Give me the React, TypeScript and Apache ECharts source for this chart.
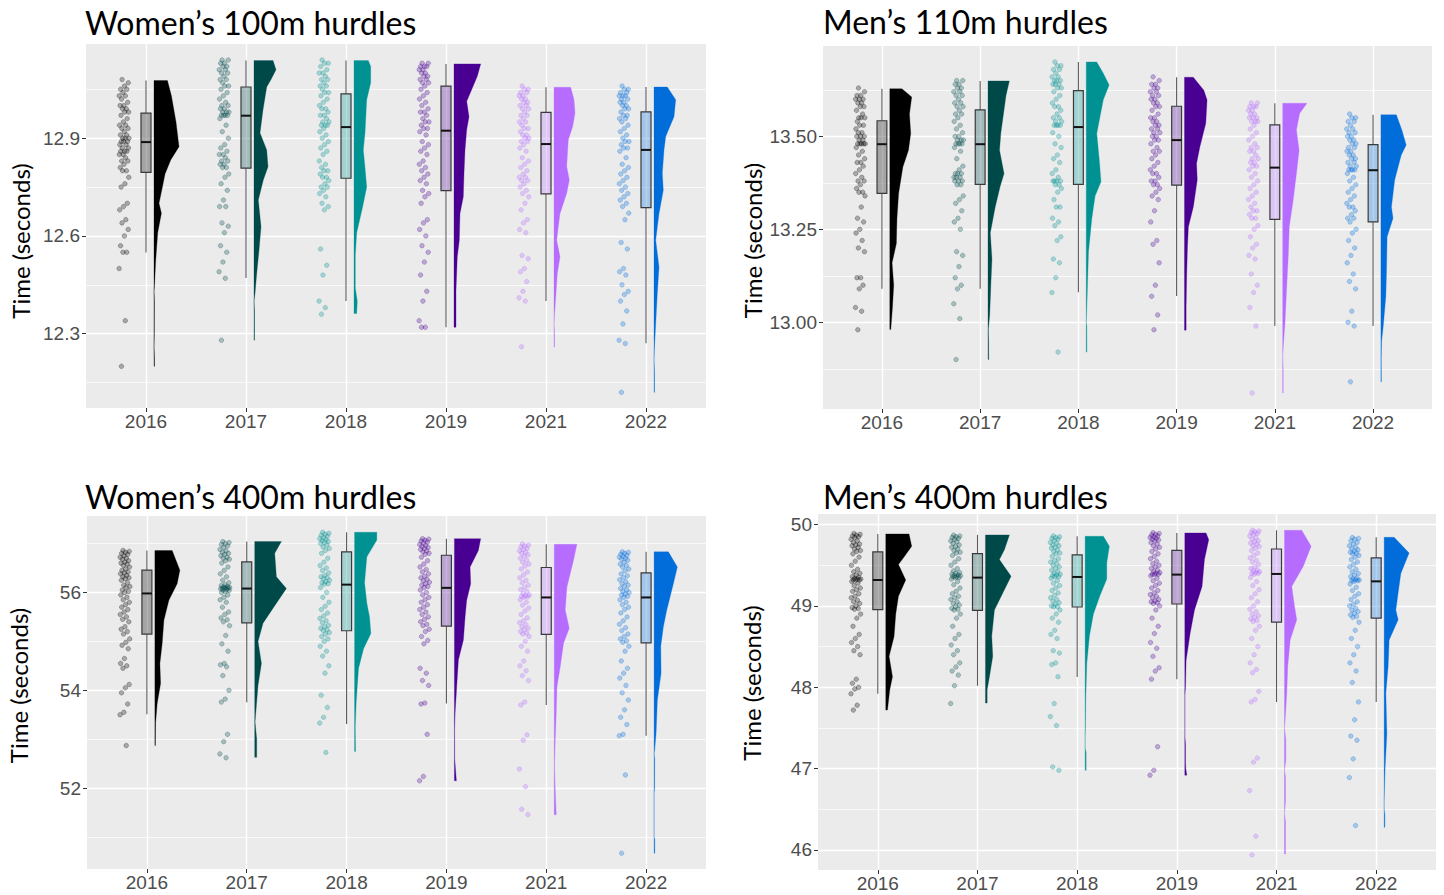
import React, { useEffect, useRef } from 'react';
import * as echarts from 'echarts';

// ---------- categories ----------
const years = ['2016', '2017', '2018', '2019', '2021', '2022'];
const yearColors = ['#000000', '#004949', '#009292', '#490092', '#b66dff', '#006ddb'];

// ---------- Women's 100m hurdles ----------
const w100Pts2016 = [13.08, 13.07, 13.06, 13.05, 13.05, 13.04, 13.03, 13.03, 13.02, 13.01, 13.0, 13.0, 12.99, 12.99, 12.98, 12.98, 12.97, 12.96, 12.95, 12.94, 12.94, 12.93, 12.93, 12.92, 12.91, 12.91, 12.9, 12.9, 12.9, 12.89, 12.89, 12.89, 12.88, 12.88, 12.87, 12.87, 12.86, 12.86, 12.86, 12.85, 12.85, 12.84, 12.83, 12.83, 12.82, 12.81, 12.8, 12.8, 12.78, 12.76, 12.75, 12.7, 12.69, 12.68, 12.65, 12.64, 12.62, 12.6, 12.57, 12.55, 12.55, 12.5, 12.34, 12.2];
const w100Pts2017 = [13.14, 13.14, 13.13, 13.13, 13.12, 13.12, 13.11, 13.11, 13.1, 13.1, 13.09, 13.08, 13.08, 13.07, 13.06, 13.06, 13.05, 13.04, 13.03, 13.02, 13.01, 13.0, 13.0, 12.99, 12.99, 12.98, 12.98, 12.98, 12.97, 12.97, 12.97, 12.97, 12.96, 12.94, 12.92, 12.9, 12.88, 12.87, 12.86, 12.85, 12.85, 12.84, 12.83, 12.83, 12.82, 12.82, 12.81, 12.81, 12.79, 12.78, 12.76, 12.74, 12.71, 12.69, 12.69, 12.64, 12.63, 12.61, 12.57, 12.55, 12.52, 12.49, 12.47, 12.28];
const w100Pts2018 = [13.14, 13.13, 13.13, 13.12, 13.11, 13.1, 13.1, 13.09, 13.08, 13.08, 13.07, 13.06, 13.06, 13.05, 13.04, 13.04, 13.03, 13.02, 13.01, 13.0, 12.99, 12.99, 12.98, 12.97, 12.97, 12.96, 12.95, 12.95, 12.94, 12.94, 12.94, 12.93, 12.92, 12.91, 12.9, 12.89, 12.88, 12.87, 12.86, 12.85, 12.83, 12.82, 12.81, 12.8, 12.8, 12.79, 12.78, 12.78, 12.77, 12.76, 12.75, 12.75, 12.74, 12.73, 12.72, 12.7, 12.69, 12.68, 12.56, 12.51, 12.48, 12.4, 12.38, 12.36];
const w100Pts2019 = [13.13, 13.13, 13.12, 13.12, 13.12, 13.11, 13.11, 13.1, 13.1, 13.09, 13.09, 13.08, 13.08, 13.07, 13.07, 13.06, 13.05, 13.04, 13.03, 13.02, 13.01, 13.0, 12.99, 12.98, 12.98, 12.97, 12.96, 12.95, 12.95, 12.94, 12.93, 12.93, 12.92, 12.91, 12.89, 12.88, 12.87, 12.86, 12.85, 12.83, 12.82, 12.81, 12.8, 12.79, 12.78, 12.77, 12.76, 12.74, 12.73, 12.72, 12.7, 12.65, 12.64, 12.62, 12.6, 12.57, 12.55, 12.52, 12.48, 12.43, 12.4, 12.34, 12.32, 12.32];
const w100Pts2021 = [13.06, 13.05, 13.05, 13.04, 13.04, 13.03, 13.03, 13.02, 13.02, 13.01, 13.01, 13.0, 13.0, 12.99, 12.99, 12.98, 12.97, 12.97, 12.96, 12.95, 12.95, 12.94, 12.93, 12.93, 12.92, 12.91, 12.91, 12.9, 12.9, 12.89, 12.89, 12.88, 12.87, 12.86, 12.84, 12.83, 12.82, 12.81, 12.8, 12.79, 12.78, 12.78, 12.77, 12.77, 12.76, 12.75, 12.74, 12.73, 12.72, 12.7, 12.68, 12.65, 12.64, 12.62, 12.61, 12.54, 12.53, 12.5, 12.49, 12.46, 12.43, 12.41, 12.4, 12.26];
const w100Pts2022 = [13.06, 13.05, 13.05, 13.04, 13.04, 13.03, 13.03, 13.03, 13.02, 13.02, 13.01, 13.01, 13.0, 13.0, 12.99, 12.99, 12.98, 12.97, 12.97, 12.96, 12.96, 12.95, 12.94, 12.93, 12.92, 12.91, 12.9, 12.89, 12.89, 12.88, 12.87, 12.87, 12.86, 12.84, 12.82, 12.81, 12.8, 12.79, 12.78, 12.77, 12.76, 12.75, 12.74, 12.73, 12.72, 12.71, 12.7, 12.69, 12.67, 12.65, 12.58, 12.56, 12.5, 12.49, 12.48, 12.45, 12.43, 12.42, 12.4, 12.37, 12.33, 12.28, 12.27, 12.12];
// [lower whisker, Q1, median, Q3, upper whisker]
const w100Box2016 = [12.549, 12.795, 12.888, 12.977, 13.077];
const w100Box2017 = [12.471, 12.808, 12.969, 13.057, 13.138];
const w100Box2018 = [12.4, 12.777, 12.934, 13.036, 13.138];
const w100Box2019 = [12.32, 12.739, 12.923, 13.06, 13.128];
const w100Box2021 = [12.4, 12.729, 12.882, 12.979, 13.056];
const w100Box2022 = [12.271, 12.687, 12.864, 12.981, 13.057];
// density profile: [time, relative density]
const w100Dens2016 = [[13.077, 13.4], [13.03, 17.4], [12.95, 22], [12.874, 25], [12.833, 16.7], [12.79, 11], [12.75, 8.4], [12.7, 5], [12.67, 7.4], [12.61, 3.7], [12.525, 1.7], [12.45, 0.5], [12.43, 0], [12.4, 0.4], [12.3, 0.3], [12.26, 0], [12.23, 0.4], [12.2, 0.5]];
const w100Dens2017 = [[13.138, 19], [13.11, 22], [13.08, 17], [13.057, 12.7], [12.987, 9], [12.916, 6], [12.864, 12.7], [12.812, 14], [12.772, 9.3], [12.71, 4.3], [12.628, 7], [12.556, 5], [12.485, 2.7], [12.423, 1], [12.4, 0], [12.37, 0.5], [12.28, 0.5]];
const w100Dens2018 = [[13.138, 14.3], [13.12, 16.7], [13.07, 16.7], [13.018, 12.7], [12.916, 11], [12.864, 9.3], [12.81, 11], [12.75, 12.7], [12.69, 8.7], [12.61, 2.7], [12.54, 1.3], [12.44, 1.3], [12.4, 3.3], [12.362, 2.7]];
const w100Dens2019 = [[13.128, 26.7], [13.09, 23.3], [13.049, 17.7], [13.013, 12.7], [12.966, 15], [12.926, 12.7], [12.864, 11], [12.792, 10], [12.72, 9.3], [12.669, 6], [12.587, 5.3], [12.536, 3.3], [12.433, 2], [12.32, 2]];
const w100Dens2021 = [[13.056, 16.7], [13.018, 20], [12.977, 21], [12.936, 18.7], [12.895, 14.3], [12.813, 12.7], [12.772, 15.3], [12.731, 12.7], [12.669, 6], [12.628, 4.3], [12.587, 2.7], [12.536, 6], [12.485, 3.3], [12.423, 2], [12.35, 0.3], [12.33, 0], [12.3, 0.5], [12.259, 0.5]];
const w100Dens2022 = [[13.057, 13.3], [13.018, 21.7], [12.966, 20], [12.905, 11.7], [12.864, 10], [12.792, 8.3], [12.74, 9.3], [12.669, 5], [12.587, 1.7], [12.505, 5], [12.423, 3.3], [12.33, 1.7], [12.249, 0.3], [12.22, 0], [12.18, 0.5], [12.12, 0.5]];

// ---------- Men's 110m hurdles ----------
const m110Pts2016 = [13.63, 13.62, 13.61, 13.61, 13.6, 13.6, 13.6, 13.59, 13.59, 13.58, 13.58, 13.57, 13.56, 13.55, 13.55, 13.55, 13.54, 13.53, 13.53, 13.52, 13.51, 13.51, 13.5, 13.5, 13.5, 13.49, 13.49, 13.48, 13.48, 13.48, 13.48, 13.48, 13.47, 13.46, 13.45, 13.44, 13.43, 13.43, 13.42, 13.41, 13.4, 13.39, 13.38, 13.38, 13.37, 13.36, 13.35, 13.35, 13.34, 13.31, 13.28, 13.27, 13.25, 13.24, 13.22, 13.2, 13.19, 13.12, 13.12, 13.1, 13.09, 13.04, 13.03, 12.98];
const m110Pts2017 = [13.65, 13.65, 13.64, 13.64, 13.63, 13.63, 13.62, 13.62, 13.61, 13.61, 13.6, 13.59, 13.59, 13.58, 13.58, 13.57, 13.56, 13.56, 13.55, 13.54, 13.53, 13.52, 13.51, 13.5, 13.5, 13.49, 13.49, 13.49, 13.48, 13.48, 13.48, 13.48, 13.47, 13.46, 13.44, 13.42, 13.41, 13.4, 13.4, 13.4, 13.39, 13.39, 13.39, 13.38, 13.38, 13.38, 13.37, 13.37, 13.34, 13.33, 13.32, 13.3, 13.28, 13.27, 13.25, 13.19, 13.18, 13.15, 13.12, 13.1, 13.09, 13.05, 13.01, 12.9];
const m110Pts2018 = [13.7, 13.69, 13.69, 13.68, 13.68, 13.67, 13.66, 13.66, 13.65, 13.65, 13.65, 13.64, 13.64, 13.64, 13.63, 13.63, 13.62, 13.61, 13.6, 13.59, 13.58, 13.58, 13.57, 13.56, 13.55, 13.55, 13.54, 13.54, 13.53, 13.53, 13.53, 13.53, 13.51, 13.5, 13.48, 13.47, 13.45, 13.44, 13.43, 13.41, 13.4, 13.39, 13.38, 13.38, 13.38, 13.38, 13.37, 13.37, 13.36, 13.35, 13.33, 13.31, 13.31, 13.28, 13.27, 13.26, 13.23, 13.22, 13.17, 13.16, 13.12, 13.08, 12.92];
const m110Pts2019 = [13.66, 13.65, 13.64, 13.64, 13.63, 13.63, 13.62, 13.62, 13.61, 13.61, 13.6, 13.6, 13.59, 13.59, 13.58, 13.58, 13.57, 13.56, 13.55, 13.55, 13.54, 13.54, 13.53, 13.53, 13.52, 13.52, 13.51, 13.51, 13.5, 13.5, 13.49, 13.49, 13.48, 13.47, 13.46, 13.46, 13.45, 13.44, 13.43, 13.42, 13.41, 13.4, 13.4, 13.39, 13.38, 13.38, 13.37, 13.37, 13.36, 13.35, 13.34, 13.33, 13.3, 13.27, 13.22, 13.21, 13.16, 13.1, 13.07, 13.02, 12.98];
const m110Pts2021 = [13.59, 13.59, 13.58, 13.58, 13.58, 13.57, 13.57, 13.56, 13.56, 13.55, 13.55, 13.55, 13.54, 13.54, 13.54, 13.53, 13.52, 13.51, 13.5, 13.49, 13.48, 13.47, 13.47, 13.46, 13.46, 13.45, 13.44, 13.44, 13.43, 13.43, 13.42, 13.42, 13.41, 13.4, 13.39, 13.38, 13.37, 13.36, 13.35, 13.34, 13.33, 13.32, 13.31, 13.3, 13.3, 13.29, 13.28, 13.28, 13.26, 13.25, 13.23, 13.21, 13.2, 13.18, 13.17, 13.13, 13.1, 13.08, 13.04, 12.99, 12.81];
const m110Pts2022 = [13.56, 13.55, 13.55, 13.54, 13.54, 13.53, 13.52, 13.52, 13.51, 13.51, 13.5, 13.5, 13.49, 13.49, 13.48, 13.48, 13.47, 13.47, 13.46, 13.46, 13.45, 13.45, 13.44, 13.44, 13.43, 13.43, 13.42, 13.42, 13.41, 13.41, 13.41, 13.41, 13.4, 13.39, 13.38, 13.37, 13.36, 13.35, 13.34, 13.33, 13.32, 13.31, 13.31, 13.3, 13.29, 13.28, 13.28, 13.27, 13.25, 13.24, 13.22, 13.2, 13.18, 13.16, 13.13, 13.11, 13.09, 13.03, 13.0, 12.99, 12.84];
const m110Box2016 = [13.09, 13.347, 13.479, 13.542, 13.628];
const m110Box2017 = [13.09, 13.371, 13.479, 13.571, 13.649];
const m110Box2018 = [13.081, 13.371, 13.525, 13.623, 13.7];
const m110Box2019 = [13.071, 13.369, 13.49, 13.581, 13.659];
const m110Box2021 = [12.99, 13.277, 13.416, 13.531, 13.589];
const m110Box2022 = [12.99, 13.27, 13.409, 13.478, 13.558];
const m110Dens2016 = [[13.628, 12.3], [13.606, 22.3], [13.56, 20], [13.508, 21.3], [13.463, 19], [13.418, 13.3], [13.347, 9], [13.28, 7.3], [13.212, 6.7], [13.16, 2.3], [13.1, 4], [13.04, 2.7], [12.981, 1]];
const m110Dens2017 = [[13.649, 21.7], [13.61, 18.3], [13.508, 13], [13.463, 11.7], [13.4, 16.3], [13.365, 12.3], [13.31, 7.3], [13.24, 2.3], [13.17, 4], [13.11, 3], [13.02, 1.7], [12.98, 0.3], [12.95, 0.6], [12.9, 0.7]];
const m110Dens2018 = [[13.7, 10.7], [13.67, 17.3], [13.638, 23.3], [13.598, 17.3], [13.508, 10.7], [13.436, 13.3], [13.378, 15], [13.34, 9], [13.28, 5.7], [13.19, 2.3], [13.1, 1.3], [13.015, 0.3], [13.0, 0], [12.99, 0.6], [12.92, 0.7]];
const m110Dens2019 = [[13.659, 9], [13.624, 19.7], [13.598, 23], [13.535, 21.7], [13.472, 15.7], [13.427, 12.3], [13.383, 13], [13.31, 9], [13.257, 4], [13.2, 3], [13.131, 2.3], [13.04, 1.7], [12.979, 1.7]];
const m110Dens2021 = [[13.589, 24.7], [13.562, 17.3], [13.517, 14], [13.463, 16.7], [13.4, 14], [13.329, 10.7], [13.257, 6.7], [13.18, 5.7], [13.09, 4], [12.997, 2.3], [12.94, 0.7], [12.91, 0], [12.87, 0.5], [12.81, 0.5]];
const m110Dens2022 = [[13.558, 15.7], [13.517, 21.3], [13.477, 25.7], [13.45, 20.7], [13.383, 14], [13.31, 10.7], [13.28, 12.3], [13.23, 6.3], [13.14, 5.7], [13.07, 5], [12.988, 2.3], [12.95, 0.7], [12.9, 0.3], [12.84, 0.5]];

// ---------- Women's 400m hurdles ----------
const w400Pts2016 = [56.86, 56.84, 56.82, 56.8, 56.78, 56.75, 56.72, 56.7, 56.68, 56.65, 56.62, 56.6, 56.58, 56.55, 56.52, 56.48, 56.45, 56.42, 56.4, 56.38, 56.35, 56.32, 56.3, 56.28, 56.25, 56.2, 56.15, 56.12, 56.1, 56.05, 56.02, 56.0, 55.95, 55.9, 55.85, 55.8, 55.75, 55.7, 55.65, 55.6, 55.55, 55.5, 55.45, 55.4, 55.3, 55.25, 55.2, 55.15, 55.05, 54.98, 54.92, 54.85, 54.65, 54.55, 54.5, 54.45, 54.12, 54.05, 53.95, 53.72, 53.55, 53.5, 52.87];
const w400Pts2017 = [57.04, 57.02, 57.0, 56.98, 56.95, 56.92, 56.88, 56.85, 56.82, 56.8, 56.78, 56.75, 56.72, 56.7, 56.68, 56.65, 56.6, 56.52, 56.45, 56.38, 56.32, 56.25, 56.2, 56.16, 56.14, 56.12, 56.11, 56.1, 56.1, 56.09, 56.09, 56.08, 56.07, 56.06, 56.05, 56.04, 56.02, 56.0, 55.95, 55.9, 55.85, 55.8, 55.7, 55.6, 55.55, 55.48, 55.44, 55.4, 55.32, 55.12, 54.95, 54.8, 54.55, 54.52, 54.48, 54.3, 54.0, 53.82, 53.76, 53.1, 52.95, 52.7, 52.62];
const w400Pts2018 = [57.23, 57.21, 57.19, 57.17, 57.15, 57.12, 57.1, 57.08, 57.06, 57.04, 57.02, 57.0, 56.97, 56.93, 56.9, 56.86, 56.8, 56.7, 56.62, 56.55, 56.5, 56.45, 56.4, 56.35, 56.32, 56.3, 56.28, 56.25, 56.22, 56.2, 56.18, 56.17, 56.1, 56.0, 55.9, 55.8, 55.72, 55.65, 55.58, 55.52, 55.47, 55.42, 55.38, 55.33, 55.3, 55.27, 55.24, 55.22, 55.18, 55.15, 55.1, 55.05, 55.0, 54.9, 54.8, 54.7, 54.5, 54.35, 53.9, 53.65, 53.45, 53.33, 52.73];
const w400Pts2019 = [57.1, 57.09, 57.07, 57.05, 57.03, 57.01, 56.98, 56.96, 56.94, 56.92, 56.9, 56.88, 56.85, 56.83, 56.8, 56.78, 56.72, 56.65, 56.58, 56.52, 56.47, 56.42, 56.38, 56.33, 56.3, 56.27, 56.24, 56.21, 56.18, 56.15, 56.12, 56.1, 56.05, 56.0, 55.95, 55.9, 55.85, 55.8, 55.75, 55.7, 55.65, 55.6, 55.55, 55.5, 55.45, 55.4, 55.35, 55.32, 55.25, 55.2, 55.1, 55.02, 54.95, 54.45, 54.35, 54.2, 54.1, 53.74, 53.72, 53.1, 52.24, 52.15];
const w400Pts2021 = [56.99, 56.97, 56.95, 56.93, 56.9, 56.88, 56.85, 56.82, 56.8, 56.77, 56.74, 56.7, 56.66, 56.62, 56.58, 56.54, 56.48, 56.42, 56.36, 56.3, 56.25, 56.2, 56.15, 56.1, 56.06, 56.02, 55.98, 55.95, 55.93, 55.92, 55.91, 55.9, 55.85, 55.8, 55.74, 55.68, 55.62, 55.55, 55.48, 55.42, 55.38, 55.34, 55.3, 55.27, 55.24, 55.2, 55.17, 55.15, 55.1, 55.0, 54.9, 54.8, 54.6, 54.5, 54.4, 54.3, 54.2, 53.76, 53.7, 53.09, 52.98, 52.39, 52.03, 51.57, 51.46];
const w400Pts2022 = [56.83, 56.82, 56.8, 56.78, 56.76, 56.74, 56.72, 56.7, 56.68, 56.66, 56.62, 56.58, 56.55, 56.52, 56.48, 56.44, 56.38, 56.34, 56.3, 56.26, 56.22, 56.18, 56.15, 56.12, 56.08, 56.05, 56.02, 56.0, 55.97, 55.95, 55.92, 55.9, 55.85, 55.8, 55.75, 55.7, 55.65, 55.58, 55.5, 55.42, 55.35, 55.28, 55.22, 55.15, 55.1, 55.05, 55.01, 54.98, 54.9, 54.8, 54.6, 54.45, 54.35, 54.25, 54.1, 53.95, 53.8, 53.6, 53.45, 53.3, 53.1, 53.07, 52.27, 50.67];
const w400Box2016 = [53.51, 55.149, 55.98, 56.455, 56.857];
const w400Box2017 = [53.755, 55.38, 56.08, 56.625, 57.04];
const w400Box2018 = [53.31, 55.217, 56.16, 56.83, 57.23];
const w400Box2019 = [53.73, 55.312, 56.094, 56.761, 57.1];
const w400Box2021 = [53.7, 55.143, 55.898, 56.51, 56.986];
const w400Box2022 = [53.07, 54.97, 55.898, 56.4, 56.83];
const w400Dens2016 = [[56.857, 17.3], [56.455, 25], [56.18, 22.3], [55.84, 14], [55.43, 9], [54.96, 7.3], [54.55, 5], [54.14, 5.7], [53.73, 2.3], [53.33, 0.7], [52.87, 0.5]];
const w400Dens2017 = [[57.04, 26.7], [56.8, 20], [56.32, 21.7], [56.08, 31.7], [55.78, 21.7], [55.37, 8.3], [55.0, 3.3], [54.55, 6.7], [54.1, 3.3], [53.7, 1.7], [53.35, 0.3], [53.0, 2], [52.63, 2]];
const w400Dens2018 = [[57.23, 22.3], [57.07, 22.3], [56.73, 12.3], [56.2, 10], [55.78, 12.3], [55.5, 15], [55.16, 16.3], [54.85, 9], [54.45, 4], [53.78, 1.7], [53.25, 0.7], [52.75, 1]];
const w400Dens2019 = [[57.1, 26.3], [56.86, 24], [56.52, 15.7], [56.18, 16.3], [55.84, 12.3], [55.5, 10.7], [55.03, 9], [54.62, 4], [54.07, 2.3], [53.53, 0.7], [53.2, 0.2], [52.6, 0.3], [52.15, 2]];
const w400Dens2021 = [[56.986, 22.7], [56.66, 19.3], [56.11, 12.7], [55.64, 11], [55.27, 15], [54.96, 9.3], [54.48, 6], [54.07, 2.7], [53.53, 2], [52.99, 1], [52.45, 0.3], [51.97, 1], [51.455, 2]];
const w400Dens2022 = [[56.83, 14.3], [56.52, 23.3], [56.18, 19.3], [55.64, 12.7], [55.3, 9.3], [54.9, 6.7], [54.35, 7], [53.8, 3.3], [53.12, 2], [52.8, 0.7], [52.7, 0], [52.6, 0.6], [52.0, 0.5], [51.9, 0], [51.0, 0], [50.95, 0.7], [50.67, 0.7]];

// ---------- Men's 400m hurdles ----------
const m400Pts2016 = [49.89, 49.88, 49.87, 49.86, 49.85, 49.84, 49.82, 49.8, 49.78, 49.76, 49.75, 49.74, 49.72, 49.7, 49.68, 49.67, 49.64, 49.6, 49.55, 49.5, 49.45, 49.42, 49.4, 49.38, 49.36, 49.35, 49.34, 49.33, 49.33, 49.32, 49.32, 49.32, 49.3, 49.28, 49.25, 49.22, 49.2, 49.18, 49.15, 49.12, 49.1, 49.07, 49.05, 49.03, 49.0, 48.98, 48.97, 48.96, 48.9, 48.85, 48.75, 48.65, 48.6, 48.55, 48.5, 48.45, 48.4, 48.1, 48.05, 48.0, 47.98, 47.92, 47.78, 47.72];
const m400Pts2017 = [49.87, 49.86, 49.85, 49.84, 49.83, 49.82, 49.8, 49.79, 49.77, 49.75, 49.73, 49.72, 49.7, 49.68, 49.66, 49.65, 49.62, 49.58, 49.54, 49.5, 49.46, 49.43, 49.41, 49.4, 49.39, 49.38, 49.37, 49.37, 49.36, 49.36, 49.35, 49.35, 49.33, 49.3, 49.26, 49.22, 49.18, 49.15, 49.12, 49.1, 49.08, 49.05, 49.03, 49.01, 48.99, 48.97, 48.96, 48.95, 48.9, 48.85, 48.75, 48.65, 48.6, 48.52, 48.45, 48.4, 48.3, 48.25, 48.2, 48.15, 48.02, 47.8];
const m400Pts2018 = [49.86, 49.85, 49.84, 49.83, 49.82, 49.8, 49.78, 49.77, 49.75, 49.74, 49.72, 49.71, 49.69, 49.67, 49.65, 49.64, 49.61, 49.58, 49.56, 49.54, 49.52, 49.5, 49.48, 49.46, 49.44, 49.42, 49.4, 49.39, 49.38, 49.37, 49.36, 49.36, 49.34, 49.31, 49.28, 49.25, 49.22, 49.19, 49.16, 49.13, 49.1, 49.08, 49.06, 49.04, 49.02, 49.0, 48.99, 48.99, 48.95, 48.9, 48.85, 48.8, 48.7, 48.65, 48.6, 48.45, 48.42, 48.3, 48.28, 48.13, 47.8, 47.64, 47.53, 47.02, 46.98];
const m400Pts2019 = [49.9, 49.89, 49.88, 49.87, 49.86, 49.85, 49.84, 49.83, 49.82, 49.81, 49.8, 49.78, 49.76, 49.74, 49.72, 49.7, 49.67, 49.64, 49.61, 49.58, 49.55, 49.52, 49.5, 49.48, 49.46, 49.44, 49.42, 49.41, 49.4, 49.39, 49.39, 49.39, 49.37, 49.34, 49.31, 49.28, 49.25, 49.22, 49.19, 49.16, 49.14, 49.12, 49.1, 49.08, 49.06, 49.05, 49.04, 49.03, 49.0, 48.95, 48.85, 48.75, 48.66, 48.55, 48.48, 48.38, 48.24, 48.2, 48.1, 47.27, 46.98, 46.92];
const m400Pts2021 = [49.93, 49.92, 49.91, 49.9, 49.89, 49.88, 49.86, 49.84, 49.82, 49.8, 49.79, 49.77, 49.76, 49.74, 49.73, 49.71, 49.68, 49.65, 49.62, 49.59, 49.56, 49.54, 49.51, 49.48, 49.46, 49.44, 49.43, 49.42, 49.41, 49.4, 49.4, 49.39, 49.35, 49.3, 49.25, 49.2, 49.15, 49.1, 49.05, 49.0, 48.96, 48.93, 48.9, 48.88, 48.86, 48.84, 48.82, 48.81, 48.75, 48.7, 48.6, 48.5, 48.4, 48.3, 48.22, 48.18, 47.95, 47.85, 47.82, 47.13, 47.08, 46.73, 46.17, 45.94];
const m400Pts2022 = [49.84, 49.83, 49.82, 49.8, 49.78, 49.76, 49.74, 49.72, 49.7, 49.69, 49.67, 49.66, 49.65, 49.64, 49.62, 49.6, 49.57, 49.54, 49.51, 49.48, 49.45, 49.42, 49.4, 49.38, 49.36, 49.34, 49.33, 49.32, 49.32, 49.31, 49.31, 49.3, 49.27, 49.23, 49.19, 49.15, 49.12, 49.08, 49.05, 49.02, 49.0, 48.97, 48.95, 48.93, 48.91, 48.89, 48.87, 48.86, 48.8, 48.7, 48.6, 48.5, 48.4, 48.3, 48.2, 48.06, 47.82, 47.6, 47.4, 47.35, 47.12, 46.89, 46.3];
const m400Box2016 = [47.92, 48.954, 49.319, 49.664, 49.885];
const m400Box2017 = [48.018, 48.946, 49.348, 49.643, 49.873];
const m400Box2018 = [48.125, 48.987, 49.356, 49.627, 49.856];
const m400Box2019 = [48.1, 49.024, 49.385, 49.684, 49.897];
const m400Box2021 = [47.818, 48.8, 49.393, 49.7, 49.93];
const m400Box2022 = [47.818, 48.85, 49.302, 49.59, 49.844];
const m400Dens2016 = [[49.885, 23.3], [49.733, 26], [49.6, 18.3], [49.51, 12.7], [49.32, 20], [49.12, 12.7], [48.9, 10], [48.625, 8.3], [48.38, 3.3], [48.13, 6.7], [47.97, 4], [47.72, 1.7]];
const m400Dens2017 = [[49.873, 24], [49.69, 19], [49.57, 14], [49.364, 25.7], [49.2, 19], [48.95, 9], [48.63, 6.3], [48.38, 7.3], [48.13, 4], [47.97, 1.7], [47.806, 1.7]];
const m400Dens2018 = [[49.856, 18.3], [49.733, 24.3], [49.53, 21.7], [49.33, 21.7], [49.13, 15], [48.9, 8.3], [48.63, 4.3], [48.3, 1.7], [47.89, 0.7], [47.5, 0.3], [47.4, 0], [47.25, 0], [47.2, 1], [46.98, 1]];
const m400Dens2019 = [[49.897, 21.3], [49.815, 24], [49.57, 19.7], [49.24, 17.3], [48.95, 9.7], [48.66, 5.3], [48.33, 1.3], [48.0, 0.7], [47.9, 0], [47.4, 0], [47.3, 0.7], [47.08, 0.7], [47.0, 1], [46.92, 2]];
const m400Dens2021 = [[49.93, 17.3], [49.733, 26.7], [49.49, 19], [49.24, 7.3], [49.0, 10], [48.83, 12.3], [48.58, 5.7], [48.26, 3.3], [47.93, 2.3], [47.6, 0.7], [47.5, 0], [47.36, 1.3], [47.1, 1.3], [46.98, 0], [46.9, 1], [46.6, 1], [46.45, 0], [46.35, 1], [45.95, 1]];
const m400Dens2022 = [[49.844, 10], [49.65, 25], [49.4, 16.7], [49.16, 14], [48.95, 11.7], [48.83, 14], [48.58, 5], [48.26, 4], [47.93, 1.7], [47.43, 2.7], [47.02, 1], [46.73, 0.3], [46.6, 0], [46.5, 0], [46.44, 0.7], [46.28, 0.7]];

// ---------- axis tick values ----------
const w100Major = [12.3, 12.6, 12.9];
const w100Minor = [12.15, 12.45, 12.75, 13.05];
const m110Major = [13.0, 13.25, 13.5];
const m110Minor = [12.875, 13.125, 13.375, 13.625];
const w400Major = [52, 54, 56];
const w400Minor = [51, 53, 55, 57];
const m400Major = [46, 47, 48, 49, 50];
const m400Minor = [46.5, 47.5, 48.5, 49.5];

const titles = ['Women’s 100m hurdles', 'Men’s 110m hurdles', 'Women’s 400m hurdles', 'Men’s 400m hurdles'];

// ---------- layout / style (not data) ----------
const layouts = [
  { left: 86, top: 44, width: 620, height: 364, yMin: 12.072, yMax: 13.189, dec: 1, titleX: 85, titleY: 6, nameGap: 54, namePad: [0, 30, 0, 0] },
  { left: 823, top: 46, width: 609, height: 363, yMin: 12.767, yMax: 13.743, dec: 2, titleX: 823, titleY: 5, nameGap: 59, namePad: [0, 26, 0, 0] },
  { left: 87, top: 516, width: 619, height: 353, yMin: 50.347, yMax: 57.563, dec: 0, titleX: 85, titleY: 480, nameGap: 57, namePad: [0, 0, 0, 14] },
  { left: 818, top: 514, width: 618, height: 356, yMin: 45.754, yMax: 50.13, dec: 0, titleX: 823, titleY: 480, nameGap: 55, namePad: [0, 0, 0, 18] },
];

const VIOLIN_OFFSET = 0.08;
const DENS_SCALE = 0.01;
const BOX_HALF = 0.05;
const JITTER_CENTER = -0.22;
const JITTER_HALF = 0.05;

function rgba(hex: string, a: number) {
  const n = parseInt(hex.slice(1), 16);
  return `rgba(${(n >> 16) & 255},${(n >> 8) & 255},${n & 255},${a})`;
}

function buildOption() {
  const panelPts = [
    [w100Pts2016, w100Pts2017, w100Pts2018, w100Pts2019, w100Pts2021, w100Pts2022],
    [m110Pts2016, m110Pts2017, m110Pts2018, m110Pts2019, m110Pts2021, m110Pts2022],
    [w400Pts2016, w400Pts2017, w400Pts2018, w400Pts2019, w400Pts2021, w400Pts2022],
    [m400Pts2016, m400Pts2017, m400Pts2018, m400Pts2019, m400Pts2021, m400Pts2022],
  ];
  const panelBox = [
    [w100Box2016, w100Box2017, w100Box2018, w100Box2019, w100Box2021, w100Box2022],
    [m110Box2016, m110Box2017, m110Box2018, m110Box2019, m110Box2021, m110Box2022],
    [w400Box2016, w400Box2017, w400Box2018, w400Box2019, w400Box2021, w400Box2022],
    [m400Box2016, m400Box2017, m400Box2018, m400Box2019, m400Box2021, m400Box2022],
  ];
  const panelDens = [
    [w100Dens2016, w100Dens2017, w100Dens2018, w100Dens2019, w100Dens2021, w100Dens2022],
    [m110Dens2016, m110Dens2017, m110Dens2018, m110Dens2019, m110Dens2021, m110Dens2022],
    [w400Dens2016, w400Dens2017, w400Dens2018, w400Dens2019, w400Dens2021, w400Dens2022],
    [m400Dens2016, m400Dens2017, m400Dens2018, m400Dens2019, m400Dens2021, m400Dens2022],
  ];
  const panelMajor = [w100Major, m110Major, w400Major, m400Major];
  const panelMinor = [w100Minor, m110Minor, w400Minor, m400Minor];
  const xTicks = years.map((_, i) => i + 1);

  const labelFont = { fontFamily: 'Liberation Sans, Arial, sans-serif', fontSize: 19, color: '#4D4D4D' };
  const grid: any[] = [];
  const xAxis: any[] = [];
  const yAxis: any[] = [];
  const series: any[] = [];
  const title: any[] = [];

  layouts.forEach((L, p) => {
    grid.push({ left: L.left, top: L.top, width: L.width, height: L.height, show: true, backgroundColor: '#EBEBEB', borderWidth: 0, containLabel: false, outerBoundsMode: 'none' });
    title.push({ text: titles[p], left: L.titleX, top: L.titleY, padding: 0, textStyle: { fontFamily: 'Lato, sans-serif', fontSize: 32, fontWeight: 'normal', color: '#000' } });
    xAxis.push({
      type: 'value', gridIndex: p, min: 0.4, max: 6.6,
      axisLine: { show: false },
      axisTick: { show: true, length: 4, lineStyle: { color: '#333', width: 1 }, customValues: xTicks },
      axisLabel: { ...labelFont, margin: 4, customValues: xTicks, formatter: (v: number) => years[Math.round(v) - 1] ?? '' },
      splitLine: { show: true, lineStyle: { color: '#FFFFFF', width: 1.4 } },
    });
    yAxis.push({
      type: 'value', gridIndex: p, min: L.yMin, max: L.yMax, position: 'left',
      name: 'Time (seconds)', nameLocation: 'middle', nameGap: L.nameGap,
      nameTextStyle: { fontFamily: 'Lato, sans-serif', fontSize: 24, color: '#000', padding: L.namePad },
      axisLine: { show: false },
      axisTick: { show: true, length: 4, lineStyle: { color: '#333', width: 1 }, customValues: panelMajor[p] },
      axisLabel: { ...labelFont, margin: 6, customValues: panelMajor[p], formatter: (v: number) => v.toFixed(L.dec) },
      splitLine: { show: true, lineStyle: { color: '#FFFFFF', width: 1.4 } },
    });
    yAxis.push({
      type: 'value', gridIndex: p, min: L.yMin, max: L.yMax, position: 'right',
      axisLine: { show: false },
      axisTick: { show: false, customValues: panelMinor[p] },
      axisLabel: { show: false, customValues: panelMinor[p] },
      splitLine: { show: true, lineStyle: { color: '#FFFFFF', width: 0.7 } },
    });

    const dens = panelDens[p];
    const boxes = panelBox[p];
    const centers = years.map((_, i) => [i + 1, boxes[i][2]]);

    series.push({
      type: 'custom', xAxisIndex: p, yAxisIndex: 2 * p, silent: true, clip: false,
      data: centers,
      renderItem: (params: any, api: any) => {
        const i = params.dataIndex;
        const prof = dens[i];
        const x0 = i + 1 + VIOLIN_OFFSET;
        const pts = prof.map(([t, w]: number[]) => api.coord([x0 + w * DENS_SCALE, t]));
        pts.push(api.coord([x0, prof[prof.length - 1][0]]));
        pts.push(api.coord([x0, prof[0][0]]));
        return { type: 'polygon', shape: { points: pts, smooth: 0 }, style: { fill: yearColors[i], stroke: yearColors[i], lineWidth: 0.3 } };
      },
    });

    series.push({
      type: 'custom', xAxisIndex: p, yAxisIndex: 2 * p, silent: true, clip: false,
      data: centers,
      renderItem: (params: any, api: any) => {
        const i = params.dataIndex;
        const [lo, q1, med, q3, hi] = boxes[i];
        const x = i + 1;
        const c = (v: number) => api.coord([x, v]);
        const tl = api.coord([x - BOX_HALF, q3]);
        const br = api.coord([x + BOX_HALF, q1]);
        const ml = api.coord([x - BOX_HALF, med]);
        const mr = api.coord([x + BOX_HALF, med]);
        const a = c(hi), b = c(q3), d = c(q1), e = c(lo);
        return {
          type: 'group',
          children: [
            { type: 'line', shape: { x1: a[0], y1: a[1], x2: b[0], y2: b[1] }, style: { stroke: '#5a5a5a', lineWidth: 1.1 } },
            { type: 'line', shape: { x1: d[0], y1: d[1], x2: e[0], y2: e[1] }, style: { stroke: '#5a5a5a', lineWidth: 1.1 } },
            { type: 'rect', shape: { x: tl[0], y: tl[1], width: br[0] - tl[0], height: br[1] - tl[1] }, style: { fill: rgba(yearColors[i], 0.3), stroke: '#3a3a3a', lineWidth: 1.2 } },
            { type: 'line', shape: { x1: ml[0], y1: ml[1], x2: mr[0], y2: mr[1] }, style: { stroke: '#111', lineWidth: 2 } },
          ],
        };
      },
    });

    panelPts[p].forEach((vals, i) => {
      series.push({
        type: 'scatter', xAxisIndex: p, yAxisIndex: 2 * p, silent: true,
        symbol: 'circle', symbolSize: 4.6,
        itemStyle: { color: rgba(yearColors[i], 0.36), borderColor: rgba(yearColors[i], 0.5), borderWidth: 0.6 },
        data: vals.map((v, j) => {
          const u = ((j * 0.6180339887 + 0.31) % 1) * 2 - 1;
          return [i + 1 + JITTER_CENTER + JITTER_HALF * u, v];
        }),
      });
    });
  });

  return { animation: false, backgroundColor: '#FFFFFF', title, grid, xAxis, yAxis, series, tooltip: { show: false } };
}

export default function App() {
  const ref = useRef<HTMLDivElement>(null);
  useEffect(() => {
    document.body.style.margin = '0';
    if (!ref.current) return;
    const chart = echarts.init(ref.current, null, { renderer: 'svg' });
    chart.setOption(buildOption() as any);
    return () => chart.dispose();
  }, []);
  return (
    <div style={{ position: 'fixed', left: 0, top: 0, width: 1444, height: 895, background: '#fff' }}>
      <div ref={ref} style={{ width: 1444, height: 895 }} />
    </div>
  );
}
